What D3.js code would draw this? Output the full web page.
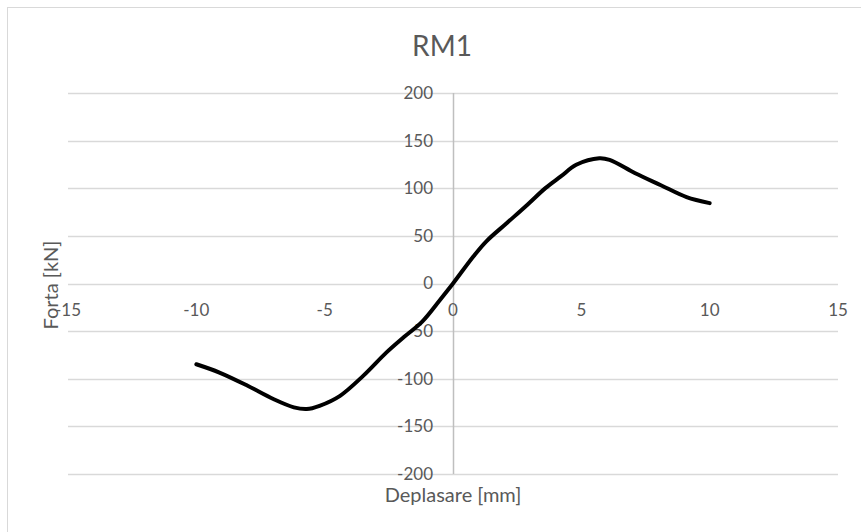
<!DOCTYPE html>
<html>
<head>
<meta charset="utf-8">
<script src="https://cdn.jsdelivr.net/npm/d3@7"></script>
<style>
  html, body { margin: 0; padding: 0; background: #fff; }
  svg { display: block; font-family: Lato, "Open Sans", sans-serif; }
</style>
</head>
<body>
<svg id="chart" width="861" height="532"></svg>
<script>
// Force–displacement curve RM1
const displacement = [-10, -9.1, -8, -7, -6.2, -5.7, -5.2, -4.4, -3.5, -2.6, -1.9, -1.2, -0.5, 0,
                      0.8, 1.3, 2.1, 2.9, 3.6, 4.2, 4.8, 5.7, 6.1, 7.1, 8.1, 9.1, 10];
const force = [-84.8, -93.5, -107.4, -121.3, -130, -131.8, -128.4, -117.9, -97, -72.6, -56, -40, -17, 0,
               28.6, 44.3, 63.5, 82.7, 100.1, 112.4, 124.6, 131.5, 129.8, 115.8, 103.2, 90.7, 84.4];
const xTicks = [-15, -10, -5, 0, 5, 10, 15];
const yTicks = [-200, -150, -100, -50, 0, 50, 100, 150, 200];

const chartTitle = "RM1";
const xTitle = "Deplasare [mm]";
const yTitle = "Forta [kN]";

const svg = d3.select("#chart");
const textColor = "#595959";

// outer chart frame
svg.append("rect")
  .attr("x", 7.5).attr("y", 7.5)
  .attr("width", 900).attr("height", 600)
  .attr("fill", "#fff")
  .attr("stroke", "#d9d9d9").attr("stroke-width", 1);

const x = d3.scaleLinear().domain([-15, 15]).range([68, 838]);
const y = d3.scaleLinear().domain([-200, 200]).range([474, 93]);

// horizontal gridlines
svg.append("g")
  .selectAll("line")
  .data(yTicks)
  .join("line")
  .attr("x1", x(-15)).attr("x2", x(15))
  .attr("y1", d => Math.round(y(d)) + 0.5).attr("y2", d => Math.round(y(d)) + 0.5)
  .attr("stroke", "#d9d9d9").attr("stroke-width", 1.5);

// vertical axis line through x = 0
svg.append("line")
  .attr("x1", Math.round(x(0)) + 0.5).attr("x2", Math.round(x(0)) + 0.5)
  .attr("y1", y(200)).attr("y2", y(-200))
  .attr("stroke", "#bfbfbf").attr("stroke-width", 1.5);

// y tick labels
svg.append("g")
  .selectAll("text")
  .data(yTicks)
  .join("text")
  .attr("x", x(0) - 20)
  .attr("y", d => y(d))
  .attr("dy", "0.35em")
  .attr("text-anchor", "end")
  .attr("fill", textColor)
  .attr("font-size", 17)
  .text(d => d);

// x tick labels
svg.append("g")
  .selectAll("text")
  .data(xTicks)
  .join("text")
  .attr("x", d => x(d))
  .attr("y", y(0) + 27)
  .attr("dy", "0.35em")
  .attr("text-anchor", "middle")
  .attr("fill", textColor)
  .attr("font-size", 17)
  .text(d => d);

// data line (smoothed)
const line = d3.line()
  .x((d, i) => x(displacement[i]))
  .y(d => y(d))
  .curve(d3.curveCatmullRom.alpha(0.5));

svg.append("path")
  .datum(force)
  .attr("d", line)
  .attr("fill", "none")
  .attr("stroke", "#000")
  .attr("stroke-width", 4)
  .attr("stroke-linejoin", "round")
  .attr("stroke-linecap", "round");

// titles
svg.append("text")
  .attr("x", 442).attr("y", 56)
  .attr("text-anchor", "middle")
  .attr("fill", textColor)
  .attr("font-size", 28)
  .text(chartTitle);

svg.append("text")
  .attr("x", 453).attr("y", 502)
  .attr("text-anchor", "middle")
  .attr("fill", textColor)
  .attr("font-size", 20)
  .text(xTitle);

svg.append("text")
  .attr("transform", "translate(58,285) rotate(-90)")
  .attr("text-anchor", "middle")
  .attr("fill", textColor)
  .attr("font-size", 20)
  .text(yTitle);
</script>
</body>
</html>
